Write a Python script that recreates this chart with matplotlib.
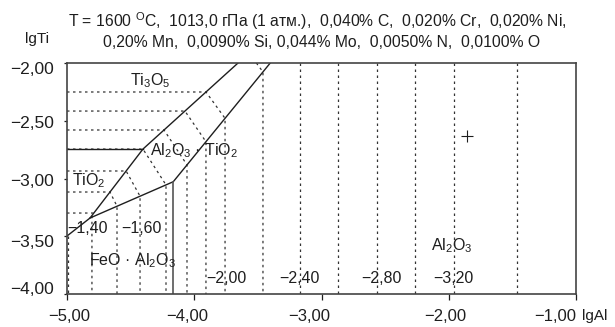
import numpy as np
import matplotlib
matplotlib.use("Agg")
import matplotlib.pyplot as plt
from matplotlib.ticker import FixedLocator, FuncFormatter
from matplotlib.transforms import ScaledTranslation

plt.rcParams['font.family'] = ['Liberation Sans', 'DejaVu Sans']
plt.rcParams['mathtext.fontset'] = 'custom'
plt.rcParams['mathtext.rm'] = 'Liberation Sans'
plt.rcParams['mathtext.it'] = 'Liberation Sans'
plt.rcParams['mathtext.default'] = 'regular'

# phase boundaries (lgAl, lgTi)
bound_a_x = [-5.000, -4.819, -4.403, -3.656]
bound_a_y = [-3.498, -3.342, -2.745, -2.000]
bound_b_x = [-4.819, -4.165, -3.405]
bound_b_y = [-3.342, -3.028, -2.003]
ti3o5_y = -2.745          # TiO2 / Ti3O5 border
spinel_x = -4.165         # FeO*Al2O3 / Al2O3 border

# iso-lines: horizontal level in TiO2 field -> vertical position in oxide fields
iso_y = [-2.251, -2.416, -2.580, -2.745, -2.935, -3.117, -3.299]
iso_x = [-3.758, -3.908, -4.057, -4.222, -4.426, -4.607, -4.804]
top_cross = (-3.512, -3.460)   # iso-line entering from the top edge
free_x = [-3.169, -2.870, -2.564, -2.265, -1.959, -1.464]
edge_x = -4.992

# labels of iso-lines
iso_labels = ['−1,40', '−1,60', '−2,00', '−2,40', '−2,80', '−3,20']
iso_lab_x = [-4.835, -4.415, -3.750, -3.177, -2.528, -1.967]
iso_lab_y = [-3.472, -3.472, -3.905, -3.905, -3.905, -3.905]

point = (-1.859, -2.632)

xticks = [-5.0, -4.0, -3.0, -2.0, -1.0]
yticks = [-2.0, -2.5, -3.0, -3.5, -4.0]
# label shifts as placed in the original (px)
xtick_dx = [2, -7.5, -12.5, -3, -21]
ytick_dy = [-4.5, -1.75, -1, -5, 5.5]

title1 = 'T = 1600 $^{O}$C,  1013,0 гПа (1 атм.),  0,040% C,  0,020% Cr,  0,020% Ni,'
title2 = '0,20% Mn,  0,0090% Si, 0,044% Mo,  0,0050% N,  0,0100% O'

ink = '#1e1e1e'
dot = dict(color='#333333', lw=0.9, dashes=(2.0, 2.8))

fig = plt.figure(figsize=(6.15, 3.27), dpi=100)
ax = fig.add_axes([67/615, 1-294/327, 509/615, 231/327])
ax.set_xlim(-5.0, -1.0)
ax.set_ylim(-4.0, -2.0)

# dotted iso-lines
for hy, vx in zip(iso_y, iso_x):
    ax_ = np.interp(hy, bound_a_y, bound_a_x)
    by_ = np.interp(vx, bound_b_x, bound_b_y)
    ax.plot([-5.0, ax_, vx, vx], [hy, hy, by_, -4.0], **dot)
ty = np.interp(top_cross[1], bound_b_x, bound_b_y)
ax.plot([top_cross[0], top_cross[1], top_cross[1]], [-2.0, ty, -4.0], **dot)
for vx in free_x:
    ax.plot([vx, vx], [-2.0, -4.0], **dot)
ax.plot([edge_x, edge_x], [bound_a_y[0], -4.0], **dot)

# solid boundaries
ax.plot(bound_a_x, bound_a_y, color=ink, lw=1.0)
ax.plot(bound_b_x, bound_b_y, color=ink, lw=1.0)
ax.plot([-5.0, bound_a_x[2]], [ti3o5_y, ti3o5_y], color=ink, lw=1.0)
ax.plot([spinel_x, spinel_x], [bound_b_y[1], -4.0], color='#555555', lw=1.2)

ax.plot(*point, marker='+', ms=8, mew=0.8, color=ink)

fs = 11.5
ax.text(-4.505, -2.190, 'Ti$_3$O$_5$', fontsize=fs, color=ink)
ax.text(-4.002, -2.797, 'Al$_2$O$_3$ · TiO$_2$', fontsize=fs, color=ink, ha='center')
ax.text(-4.961, -3.056, 'TiO$_2$', fontsize=fs, color=ink)
ax.text(-4.827, -3.750, 'FeO · Al$_2$O$_3$', fontsize=fs, color=ink)
ax.text(-1.975, -3.619, 'Al$_2$O$_3$', fontsize=fs, color=ink, ha='center')
for t, x, y in zip(iso_labels, iso_lab_x, iso_lab_y):
    ax.text(x, y, t, fontsize=fs, color=ink, ha='center')

ax.xaxis.set_major_locator(FixedLocator(xticks))
ax.yaxis.set_major_locator(FixedLocator(yticks))
fmt = FuncFormatter(lambda v, p: f"{v:.2f}".replace('.', ',').replace('-', '−'))
ax.xaxis.set_major_formatter(fmt)
ax.yaxis.set_major_formatter(fmt)
ax.tick_params(axis='x', length=4, width=0.9, pad=7, labelsize=12, colors=ink)
ax.tick_params(axis='y', length=2, width=0.9, pad=7.5, labelsize=12.5, colors=ink)
for s in ax.spines.values():
    s.set_color('#444444')
    s.set_linewidth(1.2)

fig.canvas.draw()
for lab, dx in zip(ax.get_xticklabels(), xtick_dx):
    lab.set_transform(lab.get_transform() + ScaledTranslation(dx / 100, 0, fig.dpi_scale_trans))
for lab, dy in zip(ax.get_yticklabels(), ytick_dy):
    lab.set_transform(lab.get_transform() + ScaledTranslation(0, dy / 100, fig.dpi_scale_trans))

t1 = fig.text(317/615, 1-27/327, title1, ha='center', va='baseline', fontsize=11, color=ink)
fig.canvas.draw()
size = 11 * 500 / t1.get_window_extent().width
t1.set_fontsize(size)
fig.text(322/615, 1-47/327, title2, ha='center', va='baseline', fontsize=size, color=ink)
fig.text(25/615, 1-43/327, 'lgTi', ha='left', va='baseline', fontsize=11, color=ink)
fig.text(582/615, 1-320/327, 'lgAl', ha='left', va='baseline', fontsize=11, color=ink)

fig.savefig('out.png', dpi=100)
